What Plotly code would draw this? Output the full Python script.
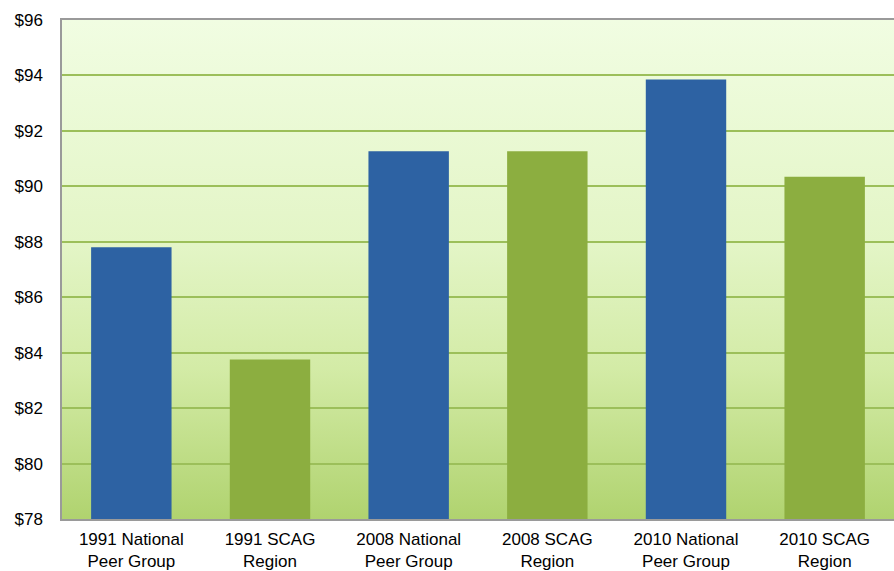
import base64
import plotly.graph_objects as go

# Average values per group
categories = [
    "1991 National<br>Peer Group",
    "1991 SCAG<br>Region",
    "2008 National<br>Peer Group",
    "2008 SCAG<br>Region",
    "2010 National<br>Peer Group",
    "2010 SCAG<br>Region",
]
values = [87.8, 83.75, 91.27, 91.27, 93.85, 90.35]
bar_colors = ["#2d62a3", "#8cae40", "#2d62a3", "#8cae40", "#2d62a3", "#8cae40"]

y_min, y_max, y_step = 78, 96, 2

# Vertical gradient used behind the plot area
svg = (
    '<svg xmlns="http://www.w3.org/2000/svg" width="10" height="100" '
    'preserveAspectRatio="none"><defs>'
    '<linearGradient id="g" x1="0" y1="0" x2="0" y2="1">'
    '<stop offset="0" stop-color="#f1fde2"/>'
    '<stop offset="0.45" stop-color="#e3f5c6"/>'
    '<stop offset="0.7" stop-color="#d3eba6"/>'
    '<stop offset="1" stop-color="#b0d36f"/>'
    '</linearGradient></defs>'
    '<rect width="10" height="100" fill="url(#g)"/></svg>'
)
bg_src = "data:image/svg+xml;base64," + base64.b64encode(svg.encode()).decode()

fig = go.Figure(
    go.Bar(
        x=categories,
        y=values,
        marker=dict(color=bar_colors, line=dict(width=0)),
        width=0.58,
    )
)

font = dict(family="Arial, 'Liberation Sans', sans-serif", size=17, color="#000000")

fig.update_layout(
    width=894,
    height=571,
    margin=dict(l=62, r=0, t=20, b=52),
    paper_bgcolor="white",
    plot_bgcolor="rgba(0,0,0,0)",
    showlegend=False,
    font=font,
    images=[
        dict(
            source=bg_src,
            xref="paper",
            yref="paper",
            x=0,
            y=1,
            sizex=1,
            sizey=1,
            sizing="stretch",
            xanchor="left",
            yanchor="top",
            layer="below",
        )
    ],
)

fig.update_yaxes(
    range=[y_min, y_max],
    dtick=y_step,
    tick0=y_min,
    tickprefix="$",
    tickformat="d",
    showgrid=True,
    gridcolor="#9cbf5a",
    gridwidth=1.5,
    zeroline=False,
    showline=True,
    linecolor="#9a9a9a",
    linewidth=1.5,
    ticks="outside",
    ticklen=14,
    tickcolor="rgba(0,0,0,0)",
    tickfont=font,
)
fig.update_xaxes(
    showgrid=False,
    showline=True,
    linecolor="#9a9a9a",
    linewidth=1.5,
    mirror=True,
    ticks="outside",
    ticklen=4,
    tickcolor="rgba(0,0,0,0)",
    tickfont=font,
)

fig.write_html("out.html")
